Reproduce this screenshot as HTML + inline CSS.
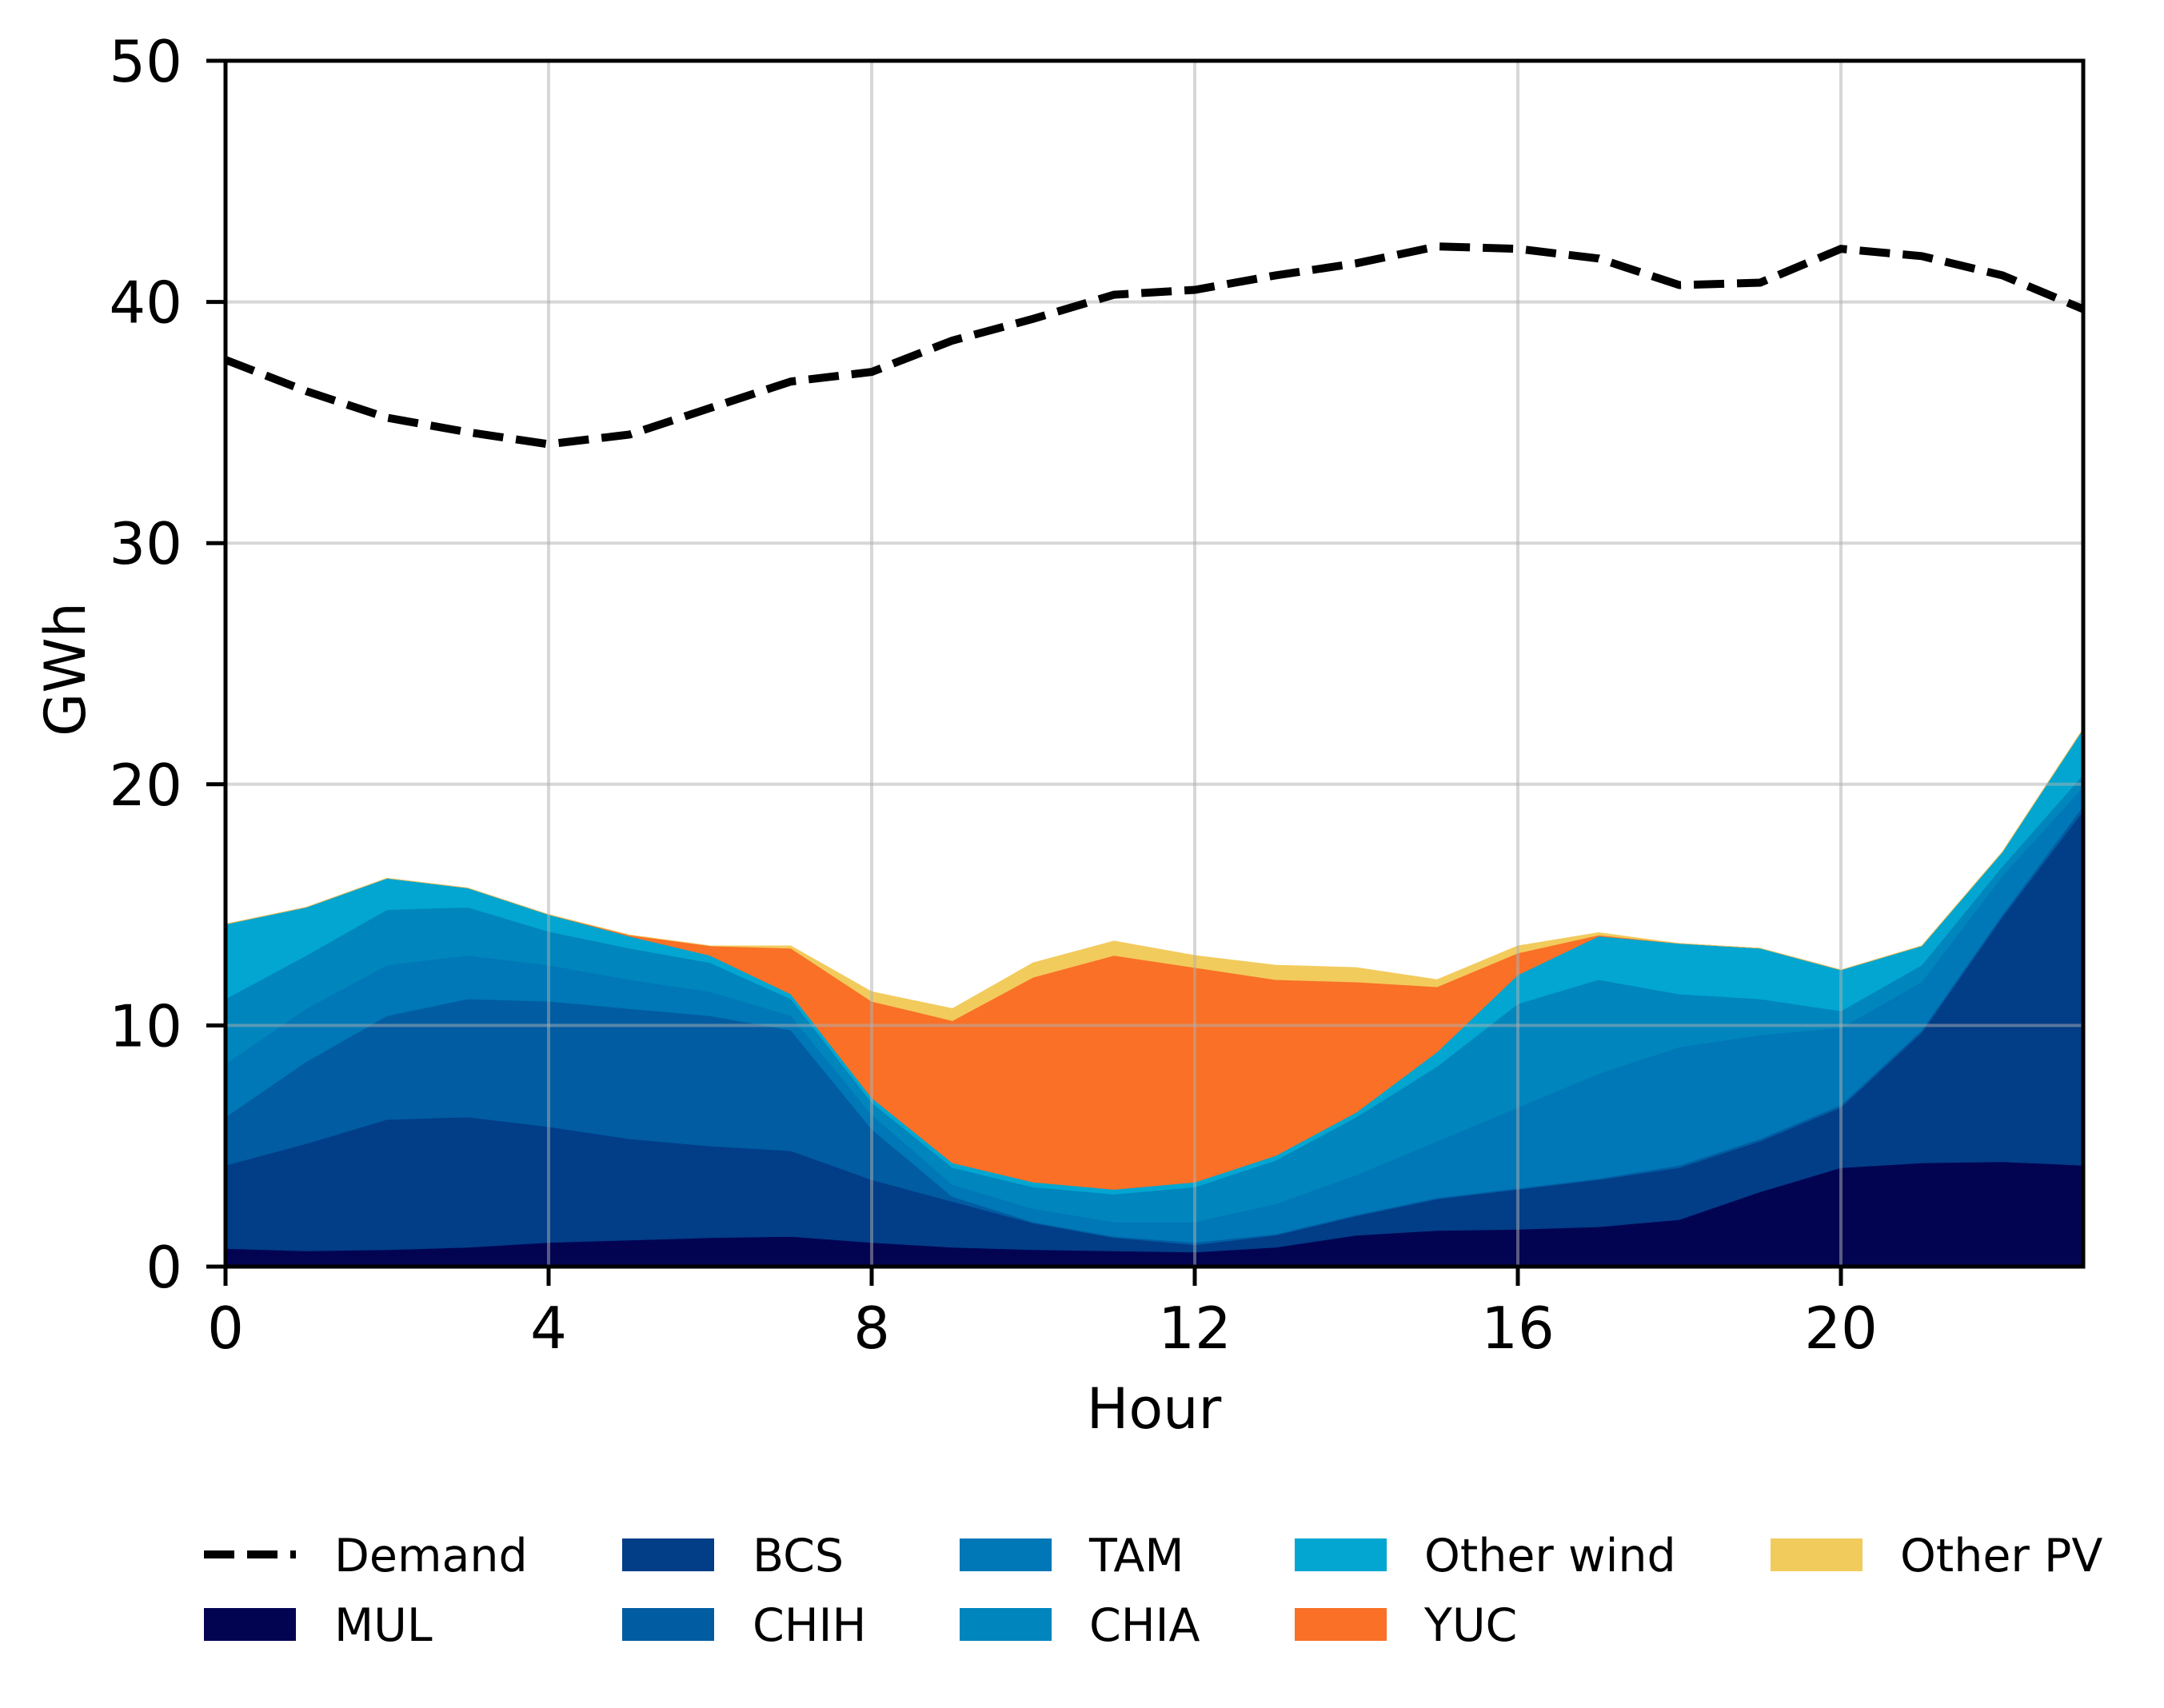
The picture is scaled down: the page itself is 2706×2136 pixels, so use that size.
<!DOCTYPE html>
<html><head><meta charset="utf-8"><style>
html,body{margin:0;padding:0;background:#fff;}
svg{display:block;font-family:"DejaVu Sans","Liberation Sans",sans-serif;}
</style></head><body>
<svg id="chart" width="2706" height="2136" viewBox="0 0 2706 2136" xmlns="http://www.w3.org/2000/svg">
<rect width="2706" height="2136" fill="#fff"/>
<g id="areas"></g>
<g id="grid"></g>
<g id="demandg"></g>
<g id="axes"></g>
<text x="106" y="837" font-size="70" text-anchor="middle" transform="rotate(-90 106 837)">GWh</text>
<text x="1443" y="1786" font-size="70" text-anchor="middle">Hour</text>
<g id="legend"></g>
</svg>
<script>
const hours = [0,1,2,3,4,5,6,7,8,9,10,11,12,13,14,15,16,17,18,19,20,21,22,23];
const seriesNames = ["MUL","BCS","CHIH","TAM","CHIA","Other wind","YUC","Other PV"];
const seriesColors = ["#020452","#023d87","#015ca2","#0077b6","#0085bc","#02a6d0","#f97026","#f2cb5d"];
const mul = [0.75,0.65,0.7,0.8,1.0,1.1,1.2,1.25,1.0,0.8,0.7,0.65,0.6,0.8,1.3,1.5,1.55,1.65,1.95,3.1,4.1,4.3,4.35,4.2];
const bcs = [3.45,4.45,5.4,5.4,4.8,4.2,3.8,3.55,2.6,1.9,1.1,0.55,0.3,0.5,0.8,1.3,1.65,1.95,2.15,2.1,2.5,5.4,10.15,14.7];
const chih = [2.0,3.4,4.3,4.9,5.2,5.4,5.4,5.0,2.1,0.2,0.05,0.05,0.1,0.05,0.05,0.05,0.05,0.05,0.1,0.1,0.1,0.1,0.1,0.2];
const tam = [2.2,2.2,2.1,1.8,1.5,1.2,1.0,0.6,0.6,0.5,0.55,0.6,0.85,1.25,1.65,2.35,3.35,4.35,4.9,4.3,3.2,2.0,1.6,0.8];
const chia = [2.7,2.2,2.3,2.0,1.4,1.3,1.2,0.7,0.5,0.7,0.9,1.15,1.45,1.8,2.4,3.1,4.3,3.9,2.2,1.5,0.7,0.7,0.4,0.5];
const wind = [3.1,2.0,1.3,0.8,0.7,0.5,0.3,0.2,0.2,0.2,0.2,0.2,0.2,0.2,0.2,0.6,1.2,1.8,2.1,2.1,1.7,0.8,0.6,1.9];
const yuc = [0,0,0,0,0,0.05,0.4,1.9,4.0,5.9,8.5,9.7,8.9,7.3,5.4,2.7,0.9,0.05,0,0,0,0,0,0];
const pv = [0,0,0,0,0,0,0,0.1,0.4,0.5,0.6,0.6,0.5,0.6,0.6,0.3,0.3,0.1,0,0,0,0,0,0];
const demand = [37.6,36.3,35.2,34.6,34.1,34.5,35.6,36.7,37.1,38.4,39.3,40.3,40.5,41.1,41.6,42.3,42.2,41.8,40.7,40.8,42.2,41.9,41.1,39.7];
const xTicks = [0,4,8,12,16,20];
const yTicks = [0,10,20,30,40,50];

const NS = "http://www.w3.org/2000/svg";
const X0 = 282, X1 = 2605, Y0 = 1584, Y1 = 76;
const xS = h => X0 + (h - 0) / 23 * (X1 - X0);
const yS = v => Y0 - v / 50 * (Y0 - Y1);
function mk(tag, attrs, parent){ const e = document.createElementNS(NS, tag); for (const k in attrs) e.setAttribute(k, attrs[k]); parent.appendChild(e); return e; }

const allSeries = [mul,bcs,chih,tam,chia,wind,yuc,pv];
const areas = document.getElementById('areas');
let base = hours.map(() => 0);
allSeries.forEach((s, i) => {
  const top = base.map((b, j) => b + s[j]);
  let d = hours.map((h, j) => (j ? 'L' : 'M') + xS(h).toFixed(1) + ' ' + yS(top[j]).toFixed(1)).join(' ');
  for (let j = hours.length - 1; j >= 0; j--) d += ' L' + xS(hours[j]).toFixed(1) + ' ' + yS(base[j]).toFixed(1);
  d += ' Z';
  const p = mk('path', {d: d, fill: seriesColors[i], stroke: seriesColors[i], 'stroke-width': 0.8}, areas);
  
  
  base = top;
});

const grid = document.getElementById('grid');
xTicks.forEach(t => {
  const l = mk('line', {x1: xS(t), x2: xS(t), y1: Y1, y2: Y0, stroke: '#b0b0b0', 'stroke-opacity': 0.5, 'stroke-width': 4}, grid);
  
  
});
yTicks.forEach(t => {
  const l = mk('line', {x1: X0, x2: X1, y1: yS(t), y2: yS(t), stroke: '#b0b0b0', 'stroke-opacity': 0.5, 'stroke-width': 4}, grid);
  
  
});

const dg = document.getElementById('demandg');
const dl = mk('polyline', {points: hours.map((h, j) => xS(h).toFixed(1) + ',' + yS(demand[j]).toFixed(1)).join(' '), fill: 'none', stroke: '#000', 'stroke-width': 10, 'stroke-dasharray': '38 16'}, dg);



const axes = document.getElementById('axes');
const fr = mk('rect', {x: X0, y: Y1, width: X1 - X0, height: Y0 - Y1, fill: 'none', stroke: '#000', 'stroke-width': 5}, axes);


xTicks.forEach(t => {
  const tk = mk('line', {x1: xS(t), x2: xS(t), y1: Y0, y2: Y0 + 24, stroke: '#000', 'stroke-width': 5}, axes);
  
  
  const tx = mk('text', {x: xS(t), y: Y0 + 102, 'font-size': 72, 'text-anchor': 'middle'}, axes);
  tx.textContent = t;
  
  
});
yTicks.forEach(t => {
  const tk = mk('line', {x1: X0 - 24, x2: X0, y1: yS(t), y2: yS(t), stroke: '#000', 'stroke-width': 5}, axes);
  
  
  const tx = mk('text', {x: 228, y: yS(t) + 26, 'font-size': 72, 'text-anchor': 'end'}, axes);
  tx.textContent = t;
  
  
});

const legend = document.getElementById('legend');
const legItems = [
  {n: 'Demand', line: true, col: 0, row: 0},
  {n: 'MUL', c: seriesColors[0], col: 0, row: 1},
  {n: 'BCS', c: seriesColors[1], col: 1, row: 0},
  {n: 'CHIH', c: seriesColors[2], col: 1, row: 1},
  {n: 'TAM', c: seriesColors[3], col: 2, row: 0},
  {n: 'CHIA', c: seriesColors[4], col: 2, row: 1},
  {n: 'Other wind', c: seriesColors[5], col: 3, row: 0},
  {n: 'YUC', c: seriesColors[6], col: 3, row: 1},
  {n: 'Other PV', c: seriesColors[7], col: 4, row: 0}
];
const colH = [255, 778, 1200, 1619, 2214];
const colT = [418, 941, 1362, 1781, 2376];
const rowY = [1944, 2031];
legItems.forEach(it => {
  const g = mk('g', {}, legend);
  
  
  const y = rowY[it.row];
  if (it.line) {
    mk('line', {x1: colH[it.col], x2: colH[it.col] + 115, y1: y, y2: y, stroke: '#000', 'stroke-width': 10, 'stroke-dasharray': '38 16'}, g);
  } else {
    mk('rect', {x: colH[it.col], y: y - 20, width: 115, height: 41, fill: it.c}, g);
  }
  const t = mk('text', {x: colT[it.col], y: y + 21, 'font-size': 57}, g);
  t.textContent = it.n;
});
</script>
</body></html>
